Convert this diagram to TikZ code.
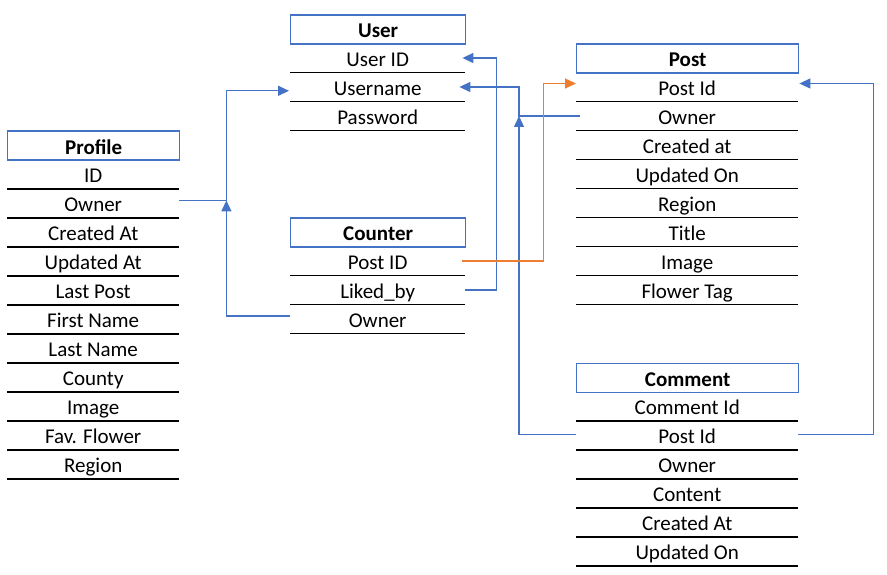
\documentclass[tikz,border=0pt]{standalone}
\usepackage{fontspec}
\setmainfont{Carlito}
\usetikzlibrary{arrows.meta,calc}
\definecolor{oblue}{HTML}{4472C4}
\definecolor{oorange}{HTML}{ED7D31}
\newcommand\erfont{\fontsize{21}{25}\selectfont}
\tikzset{
  hdr/.style={draw=oblue, line width=1.3pt, minimum height=29pt, inner sep=0pt, text height=20pt, text depth=3pt, font=\erfont\bfseries, anchor=north west},
  cell/.style={minimum height=29pt, inner sep=0pt, text height=20pt, text depth=3pt, font=\erfont, anchor=north west},
  rowline/.style={line width=1.3pt, black},
  link/.style={draw=oblue, line width=1.3pt},
  olink/.style={draw=oorange, line width=1.3pt},
  tip/.style={-{Triangle[length=11pt,width=10pt]}},
}
\newcommand\erTable[6]{%
  \node[hdr, minimum width=#4pt] (#1) at (#2,#3) {#5};
  \foreach \r [count=\i] in {#6} {
    \node[cell, minimum width=#4pt] (#1\i) at (#2,#3+29*\i) {\r};
    \draw[rowline] (#1\i.south west) -- (#1\i.south east);
  }%
}
\begin{document}
\begin{tikzpicture}[x=1pt,y=-1pt]
\useasboundingbox (0,0) rectangle (887,575);
\erTable{profile}{7}{130.5}{172}{Profile}{ID,Owner,Created At,Updated At,Last Post,First Name,Last Name,County,Image,Fav. Flower,Region}
\erTable{user}{290}{14.3}{175}{User}{User ID,Username,Password}
\erTable{counter}{290}{217.3}{175}{Counter}{Post ID,Liked\_by,Owner}
\erTable{post}{576}{43.3}{222}{Post}{Post Id,Owner,Created at,Updated On,Region,Title,Image,Flower Tag}
\erTable{comment}{576}{362.5}{222}{Comment}{Comment Id,Post Id,Owner,Content,Created At,Updated On}
% junctions
\path ([yshift=2.8pt]profile2.east) ++(47,0) coordinate (jL);
\path (post2.west) ++(-57,0) coordinate (jR);
% connectors
\draw[link,tip] ([yshift=2.8pt]profile2.east) -- (jL) |- ([xshift=-1pt,yshift=-3.8pt]user2.west);
\draw[link,tip] ([yshift=3pt]counter3.west) -| (jL);
\draw[link,tip] (counter2.east) -- ++(31,0) |- ([xshift=-3pt]user1.east);
\draw[link,tip] ([xshift=4pt]post2.west) -- (jR) |- ([xshift=-6pt]user2.east);
\draw[link,tip] ([yshift=1pt]comment2.west) -| (jR);
\draw[link,tip] ([yshift=1pt]comment2.east) -- ++(75,0) |- ([xshift=1pt,yshift=3.5pt]post1.east);
\draw[olink,tip] ([xshift=-3pt]counter1.east) -- ++(81,0) |- ([yshift=3.5pt]post1.west);
\end{tikzpicture}
\end{document}
